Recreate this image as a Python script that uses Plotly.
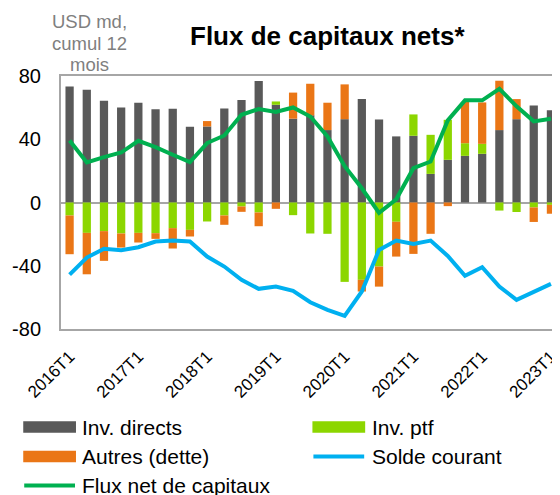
import plotly.graph_objects as go

quarters = [f"{y}T{q}" for y in range(2016, 2024) for q in range(1, 5)][:29]
year_ticks = ["2016T1", "2017T1", "2018T1", "2019T1", "2020T1", "2021T1", "2022T1", "2023T1"]

inv_directs = [73.4, 71.3, 64.3, 60.1, 63.1, 58.9, 59.3, 47.9, 48.1, 59.5, 64.8, 76.8, 61.8, 53.0,
               55.1, 45.8, 52.7, 65.4, 52.5, 41.8, 42.2, 18.1, 27.0, 29.5, 30.8, 45.8, 52.7, 61.4, 58.4]
inv_ptf = [-8.2, -19.2, -18.1, -19.6, -19.2, -19.4, -16.2, -17.3, -12.0, -8.2, -2.5, -6.3, 2.1, -8.0,
           -19.6, -19.8, -50.2, -48.9, -40.5, -12.2, 13.5, 24.7, 25.3, 8.0, 6.3, -5.1, -6.0, -3.1, -1.5]
autres = [-24.5, -26.2, -18.8, -8.9, -6.1, -3.6, -12.9, -4.2, 3.4, -5.9, -3.4, -8.7, -4.0, 16.5,
          20.0, 17.3, 22.0, -7.4, -12.7, -22.0, -32.5, -19.8, -2.3, 26.1, 26.2, 31.2, 12.7, -9.2, -5.6]
solde_courant = [-45.6, -34.8, -29.3, -30.2, -28.3, -24.7, -24.1, -24.7, -34.2, -40.5, -48.9, -54.6,
                 -53.2, -55.9, -63.1, -67.9, -71.7, -56.3, -30.0, -24.1, -26.2, -24.1, -33.8, -46.4,
                 -40.9, -53.2, -61.6, -56.3, -51.5]
flux_net = [39.2, 25.3, 28.7, 31.6, 39.0, 35.0, 30.2, 25.5, 37.6, 42.4, 55.5, 59.1, 57.2, 60.1,
            54.4, 41.8, 23.0, 9.0, -6.5, 2.0, 21.7, 25.9, 51.9, 64.6, 64.6, 71.9, 60.8, 51.3, 53.0]

FONT = "Liberation Sans, Arial, sans-serif"
C_DIR = "#595959"
C_PTF = "#8CD600"
C_AUT = "#EA7616"
C_SOL = "#00B0F0"
C_NET = "#00B050"
AXIS_GRAY = "#a6a6a6"

# The page body adds an 8px offset; the figure is sized so that it fills the window.
OFF = 8
W, H = 560 - OFF, 495 - OFF
ML, MR, MT, MB = 61 - OFF, 0, 76 - OFF, 166
PW = W - ML - MR
PH = H - MT - MB


def px(x):
    """window pixel x -> paper x"""
    return (x - OFF - ML) / PW


def py(y):
    """window pixel y -> paper y"""
    return (H - MB - (y - OFF)) / PH


fig = go.Figure()
fig.add_bar(x=quarters, y=inv_directs, name="Inv. directs", marker_color=C_DIR, marker_line_width=0)
fig.add_bar(x=quarters, y=inv_ptf, name="Inv. ptf", marker_color=C_PTF, marker_line_width=0)
fig.add_bar(x=quarters, y=autres, name="Autres (dette)", marker_color=C_AUT, marker_line_width=0)
fig.add_scatter(x=quarters, y=solde_courant, name="Solde courant", mode="lines",
                line=dict(color=C_SOL, width=4))
fig.add_scatter(x=quarters, y=flux_net, name="Flux net de capitaux", mode="lines",
                line=dict(color=C_NET, width=4))

shapes = []
annotations = []

# Title
annotations.append(dict(text="<b>Flux de capitaux nets*</b>", x=px(331), y=py(36), xref="paper", yref="paper",
                        xanchor="center", yanchor="middle", showarrow=False,
                        font=dict(size=26, color="black", family=FONT)))
# Units label
for txt, yy in [("USD md,", 21.5), ("cumul 12", 43), ("mois", 64)]:
    annotations.append(dict(text=txt, x=px(90), y=py(yy), xref="paper", yref="paper",
                            xanchor="center", yanchor="middle", showarrow=False,
                            font=dict(size=18.5, color="#7f7f7f", family=FONT)))

# Manual legend
legend_items = [
    ("Inv. directs", "bar", C_DIR, 22.7, 427),
    ("Inv. ptf", "bar", C_PTF, 316, 427),
    ("Autres (dette)", "bar", C_AUT, 22.7, 456.5),
    ("Solde courant", "line", C_SOL, 316, 456.5),
    ("Flux net de capitaux", "line", C_NET, 22.7, 485.5),
]
for label, kind, color, x0, yc in legend_items:
    if kind == "bar":
        shapes.append(dict(type="rect", xref="paper", yref="paper", x0=px(x0), x1=px(x0 + 53.5),
                           y0=py(yc + 5.8), y1=py(yc - 5.8), fillcolor=color, line=dict(width=0)))
    else:
        shapes.append(dict(type="line", xref="paper", yref="paper", x0=px(x0 + 1), x1=px(x0 + 52.5),
                           y0=py(yc), y1=py(yc), line=dict(color=color, width=4)))
    annotations.append(dict(text=label, x=px(x0 + 58), y=py(yc), xref="paper", yref="paper",
                            xanchor="left", yanchor="middle", showarrow=False,
                            font=dict(size=21, color="black", family=FONT)))

fig.update_layout(
    width=W, height=H,
    margin=dict(l=ML, r=MR, t=MT, b=MB, pad=0),
    paper_bgcolor="white", plot_bgcolor="white",
    barmode="relative", bargap=0.52,
    showlegend=False,
    font=dict(family=FONT, color="black"),
    shapes=shapes, annotations=annotations,
    xaxis=dict(type="category", categoryorder="array", categoryarray=quarters,
               range=[-0.5, 28.12], tickmode="array", tickvals=year_ticks, ticktext=year_ticks,
               tickangle=-45, tickfont=dict(size=17, family=FONT, color="black"),
               showline=True, mirror=True, linecolor=AXIS_GRAY, linewidth=2,
               showgrid=False, ticks="", ticklabelstandoff=9),
    yaxis=dict(range=[-80, 80], tickvals=[-80, -40, 0, 40, 80], ticktext=["-80", "-40", "0", "40", "80"],
               tickfont=dict(size=20, family=FONT, color="black"),
               showline=True, linecolor=AXIS_GRAY, linewidth=2, showgrid=False,
               zeroline=True, zerolinecolor=AXIS_GRAY, zerolinewidth=2, ticks="",
               ticklabelstandoff=14, layer="above traces"),
)

fig.write_html("out.html")
